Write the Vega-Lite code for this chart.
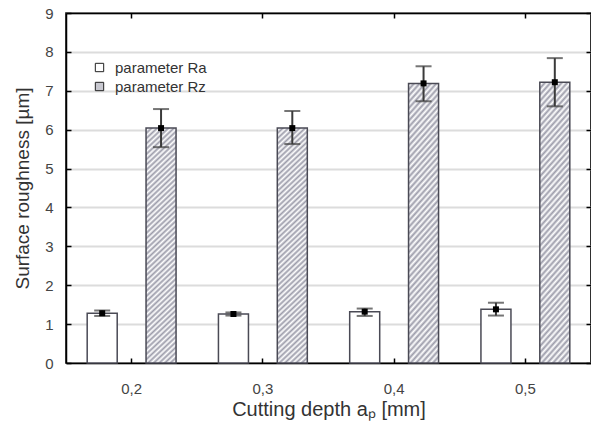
{
  "$schema": "https://vega.github.io/schema/vega-lite/v6.json",
  "width": 525,
  "height": 350,
  "autosize": {"type": "none"},
  "padding": {"left": 66, "top": 13, "right": 0, "bottom": 72},
  "background": "white",
  "config": {
    "view": {"stroke": "black", "strokeWidth": 1.5},
    "font": "Liberation Sans",
    "axis": {
      "labelFont": "Liberation Sans",
      "titleFont": "Liberation Sans",
      "labelFontSize": 15,
      "titleFontSize": 19,
      "labelColor": "#444",
      "titleColor": "#333",
      "titleFontWeight": "normal",
      "domainColor": "black",
      "domainWidth": 1.5,
      "tickColor": "black",
      "tickWidth": 1.5,
      "tickSize": -5,
      "gridColor": "#dcdcdc",
      "gridWidth": 2
    },
    "legend": {
      "labelFont": "Liberation Sans",
      "labelFontSize": 15,
      "labelColor": "#333"
    }
  },
  "data": {
    "values": [
      {"depth": "0,2", "param": "Ra", "mean": 1.28, "lo": 1.21, "hi": 1.35},
      {"depth": "0,3", "param": "Ra", "mean": 1.26, "lo": 1.22, "hi": 1.30},
      {"depth": "0,4", "param": "Ra", "mean": 1.32, "lo": 1.21, "hi": 1.40},
      {"depth": "0,5", "param": "Ra", "mean": 1.38, "lo": 1.22, "hi": 1.55},
      {"depth": "0,2", "param": "Rz", "mean": 6.04, "lo": 5.55, "hi": 6.53},
      {"depth": "0,3", "param": "Rz", "mean": 6.04, "lo": 5.63, "hi": 6.48},
      {"depth": "0,4", "param": "Rz", "mean": 7.19, "lo": 6.73, "hi": 7.63},
      {"depth": "0,5", "param": "Rz", "mean": 7.22, "lo": 6.60, "hi": 7.84}
    ]
  },
  "resolve": {"axis": {"x": "independent", "y": "independent"}},
  "layer": [
    {
      "transform": [{"filter": "datum.param === 'Ra'"}],
      "mark": {"type": "bar", "stroke": "#4a4a55", "strokeWidth": 1.5},
      "encoding": {
        "x": {"field": "depth", "type": "nominal", "sort": null,
              "scale": {"domain": ["0,2", "0,3", "0,4", "0,5"], "paddingInner": 0, "paddingOuter": 0},
              "axis": {"title": "Cutting depth aₚ [mm]", "titleFontSize": 20, "labelAngle": 0, "labelPadding": 23, "titlePadding": 3, "domain": true, "ticks": true}},
        "xOffset": {"field": "param", "type": "nominal",
                    "scale": {"domain": ["Ra", "Rz"], "paddingInner": 0.49, "paddingOuter": 0.36}},
        "y": {"field": "mean", "type": "quantitative",
              "scale": {"domain": [0, 9], "nice": false},
              "axis": {"title": "Surface roughness [µm]", "values": [0,1,2,3,4,5,6,7,8,9], "grid": true, "labelPadding": 18, "titlePadding": 12}},
        "fill": {"field": "param", "type": "nominal",
                 "scale": {"domain": ["Ra", "Rz"], "range": ["#ffffff", "#c8c8d0"]},
                 "legend": {"title": null, "orient": "none", "legendX": 26, "legendY": 47,
                            "labelExpr": "'parameter ' + datum.label",
                            "symbolType": "square", "symbolSize": 70, "symbolStrokeColor": "#222", "symbolStrokeWidth": 1,
                            "labelOffset": 8, "rowPadding": 3, "padding": 0,
                            "encode": {"symbols": {"update": {
                              "fill": {"signal": "datum.value === 'Rz' ? {gradient: 'linear', x1: 0, y1: 0, x2: 0.5, y2: 0.5, stops: [{offset: 0, color: '#ffffff'}, {offset: 0.15, color: '#666677'}, {offset: 0.3, color: '#ffffff'}, {offset: 0.45, color: '#666677'}, {offset: 0.6, color: '#ffffff'}, {offset: 0.75, color: '#666677'}, {offset: 0.9, color: '#ffffff'}]} : '#ffffff'"},
                              "stroke": {"value": "#222222"},
                              "strokeWidth": {"value": 1}
                            }}}}}
      }
    },
    {
      "transform": [{"filter": "datum.param === 'Rz'"}],
      "mark": {"type": "bar", "stroke": "#4a4a55", "strokeWidth": 1.5,
               "fill": {"gradient": "linear", "x1": 0, "y1": 0, "x2": 0.133, "y2": 1.104, "stops": [
                   {"offset": 0.00, "color": "#9c9caa"}, {"offset": 0.01, "color": "#ffffff"},
                   {"offset": 0.02, "color": "#9c9caa"}, {"offset": 0.03, "color": "#ffffff"},
                   {"offset": 0.04, "color": "#9c9caa"}, {"offset": 0.05, "color": "#ffffff"},
                   {"offset": 0.06, "color": "#9c9caa"}, {"offset": 0.07, "color": "#ffffff"},
                   {"offset": 0.08, "color": "#9c9caa"}, {"offset": 0.09, "color": "#ffffff"},
                   {"offset": 0.10, "color": "#9c9caa"}, {"offset": 0.11, "color": "#ffffff"},
                   {"offset": 0.12, "color": "#9c9caa"}, {"offset": 0.13, "color": "#ffffff"},
                   {"offset": 0.14, "color": "#9c9caa"}, {"offset": 0.15, "color": "#ffffff"},
                   {"offset": 0.16, "color": "#9c9caa"}, {"offset": 0.17, "color": "#ffffff"},
                   {"offset": 0.18, "color": "#9c9caa"}, {"offset": 0.19, "color": "#ffffff"},
                   {"offset": 0.20, "color": "#9c9caa"}, {"offset": 0.21, "color": "#ffffff"},
                   {"offset": 0.22, "color": "#9c9caa"}, {"offset": 0.23, "color": "#ffffff"},
                   {"offset": 0.24, "color": "#9c9caa"}, {"offset": 0.25, "color": "#ffffff"},
                   {"offset": 0.26, "color": "#9c9caa"}, {"offset": 0.27, "color": "#ffffff"},
                   {"offset": 0.28, "color": "#9c9caa"}, {"offset": 0.29, "color": "#ffffff"},
                   {"offset": 0.30, "color": "#9c9caa"}, {"offset": 0.31, "color": "#ffffff"},
                   {"offset": 0.32, "color": "#9c9caa"}, {"offset": 0.33, "color": "#ffffff"},
                   {"offset": 0.34, "color": "#9c9caa"}, {"offset": 0.35, "color": "#ffffff"},
                   {"offset": 0.36, "color": "#9c9caa"}, {"offset": 0.37, "color": "#ffffff"},
                   {"offset": 0.38, "color": "#9c9caa"}, {"offset": 0.39, "color": "#ffffff"},
                   {"offset": 0.40, "color": "#9c9caa"}, {"offset": 0.41, "color": "#ffffff"},
                   {"offset": 0.42, "color": "#9c9caa"}, {"offset": 0.43, "color": "#ffffff"},
                   {"offset": 0.44, "color": "#9c9caa"}, {"offset": 0.45, "color": "#ffffff"},
                   {"offset": 0.46, "color": "#9c9caa"}, {"offset": 0.47, "color": "#ffffff"},
                   {"offset": 0.48, "color": "#9c9caa"}, {"offset": 0.49, "color": "#ffffff"},
                   {"offset": 0.50, "color": "#9c9caa"}, {"offset": 0.51, "color": "#ffffff"},
                   {"offset": 0.52, "color": "#9c9caa"}, {"offset": 0.53, "color": "#ffffff"},
                   {"offset": 0.54, "color": "#9c9caa"}, {"offset": 0.55, "color": "#ffffff"},
                   {"offset": 0.56, "color": "#9c9caa"}, {"offset": 0.57, "color": "#ffffff"},
                   {"offset": 0.58, "color": "#9c9caa"}, {"offset": 0.59, "color": "#ffffff"},
                   {"offset": 0.60, "color": "#9c9caa"}, {"offset": 0.61, "color": "#ffffff"},
                   {"offset": 0.62, "color": "#9c9caa"}, {"offset": 0.63, "color": "#ffffff"},
                   {"offset": 0.64, "color": "#9c9caa"}, {"offset": 0.65, "color": "#ffffff"},
                   {"offset": 0.66, "color": "#9c9caa"}, {"offset": 0.67, "color": "#ffffff"},
                   {"offset": 0.68, "color": "#9c9caa"}, {"offset": 0.69, "color": "#ffffff"},
                   {"offset": 0.70, "color": "#9c9caa"}, {"offset": 0.71, "color": "#ffffff"},
                   {"offset": 0.72, "color": "#9c9caa"}, {"offset": 0.73, "color": "#ffffff"},
                   {"offset": 0.74, "color": "#9c9caa"}, {"offset": 0.75, "color": "#ffffff"},
                   {"offset": 0.76, "color": "#9c9caa"}, {"offset": 0.77, "color": "#ffffff"},
                   {"offset": 0.78, "color": "#9c9caa"}, {"offset": 0.79, "color": "#ffffff"},
                   {"offset": 0.80, "color": "#9c9caa"}, {"offset": 0.81, "color": "#ffffff"},
                   {"offset": 0.82, "color": "#9c9caa"}, {"offset": 0.83, "color": "#ffffff"},
                   {"offset": 0.84, "color": "#9c9caa"}, {"offset": 0.85, "color": "#ffffff"},
                   {"offset": 0.86, "color": "#9c9caa"}, {"offset": 0.87, "color": "#ffffff"},
                   {"offset": 0.88, "color": "#9c9caa"}, {"offset": 0.89, "color": "#ffffff"},
                   {"offset": 0.90, "color": "#9c9caa"}, {"offset": 0.91, "color": "#ffffff"},
                   {"offset": 0.92, "color": "#9c9caa"}, {"offset": 0.93, "color": "#ffffff"},
                   {"offset": 0.94, "color": "#9c9caa"}, {"offset": 0.95, "color": "#ffffff"},
                   {"offset": 0.96, "color": "#9c9caa"}, {"offset": 0.97, "color": "#ffffff"},
                   {"offset": 0.98, "color": "#9c9caa"}, {"offset": 0.99, "color": "#ffffff"},
                   {"offset": 1.00, "color": "#9c9caa"}
                 ]}},
      "encoding": {
        "x": {"field": "depth", "type": "nominal", "sort": null, "axis": null},
        "xOffset": {"field": "param", "type": "nominal"},
        "y": {"field": "mean", "type": "quantitative", "axis": null}
      }
    },
    {
      "mark": {"type": "rule", "color": "#3a3a3a", "strokeWidth": 2},
      "encoding": {
        "x": {"field": "depth", "type": "nominal", "sort": null,
              "axis": {"orient": "top", "labels": false, "title": null, "domain": true, "ticks": true}},
        "xOffset": {"field": "param", "type": "nominal"},
        "y": {"field": "lo", "type": "quantitative",
              "axis": {"orient": "right", "labels": false, "title": null, "grid": false, "values": [0,1,2,3,4,5,6,7,8,9]}},
        "y2": {"field": "hi"}
      }
    },
    {
      "mark": {"type": "tick", "color": "#3a3a3a", "thickness": 2, "size": 16, "orient": "horizontal"},
      "encoding": {
        "x": {"field": "depth", "type": "nominal", "sort": null, "axis": null},
        "xOffset": {"field": "param", "type": "nominal"},
        "y": {"field": "lo", "type": "quantitative", "axis": null}
      }
    },
    {
      "mark": {"type": "tick", "color": "#3a3a3a", "thickness": 2, "size": 16, "orient": "horizontal"},
      "encoding": {
        "x": {"field": "depth", "type": "nominal", "sort": null, "axis": null},
        "xOffset": {"field": "param", "type": "nominal"},
        "y": {"field": "hi", "type": "quantitative", "axis": null}
      }
    },
    {
      "mark": {"type": "point", "shape": "square", "filled": true, "color": "black", "size": 36, "opacity": 1},
      "encoding": {
        "x": {"field": "depth", "type": "nominal", "sort": null, "axis": null},
        "xOffset": {"field": "param", "type": "nominal"},
        "y": {"field": "mean", "type": "quantitative", "axis": null}
      }
    }
  ]
}
